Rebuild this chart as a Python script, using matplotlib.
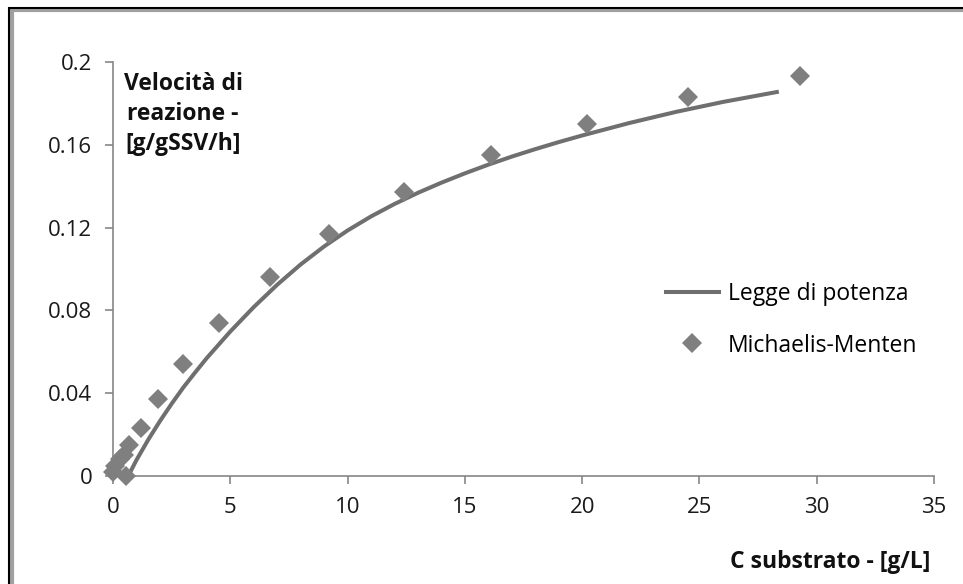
import matplotlib
matplotlib.use("Agg")
import matplotlib.pyplot as plt
from matplotlib.patches import Rectangle

plt.rcParams['font.family'] = ['Open Sans', 'DejaVu Sans']

# Michaelis-Menten points
x_mm = [0.02, 0.1, 0.3, 0.45, 0.55, 0.7, 1.2, 1.9, 3.0, 4.5, 6.7, 9.2, 12.4, 16.1, 20.2, 24.5, 29.3]
y_mm = [0.002, 0.005, 0.008, 0.010, 0.000, 0.015, 0.023, 0.037, 0.054, 0.074, 0.096, 0.117, 0.137, 0.155, 0.170, 0.183, 0.193]

# power-law curve
x_pw = [0.65, 1, 1.5, 2, 2.5, 3, 3.5, 4, 5, 6, 7, 8, 9, 10, 11, 12, 13, 14, 15, 16, 17, 18, 19, 20,
        22, 24, 26, 28.3]
y_pw = [0.0, 0.0077, 0.0175, 0.0265, 0.0349, 0.0428, 0.0500, 0.0570, 0.0698, 0.0816, 0.0924, 0.1022,
        0.1109, 0.1186, 0.1254, 0.1314, 0.1368, 0.1417, 0.1462, 0.1504, 0.1543, 0.1579, 0.1613, 0.1645,
        0.1705, 0.1759, 0.1807, 0.1855]

xticks = [0, 5, 10, 15, 20, 25, 30, 35]
yticks = [0, 0.04, 0.08, 0.12, 0.16, 0.2]
ytick_labels = ['0', '0.04', '0.08', '0.12', '0.16', '0.2']

fig = plt.figure(figsize=(9.63, 5.84), dpi=100)

# outer frame with a grey shadow line
fig.patches.append(Rectangle((12/963, -0.1), 1.2, (584 - 10)/584 + 0.1, transform=fig.transFigure,
                             fill=False, edgecolor='#a0a0a0', linewidth=3, zorder=0))
fig.patches.append(Rectangle((9/963, -0.1), 1.2, (584 - 8)/584 + 0.1, transform=fig.transFigure,
                             fill=False, edgecolor='black', linewidth=1.5, zorder=1))

ax = fig.add_axes([113/963, (584 - 476)/584, 821/963, 414/584])

ax.plot(x_pw, y_pw, color='#6f6f6f', linewidth=2.9, label='Legge di potenza', zorder=3)
ax.plot(x_mm, y_mm, linestyle='none', marker='D', markersize=10, color='#7f7f7f',
        markeredgewidth=0, label='Michaelis-Menten', clip_on=False, zorder=4)

ax.set_xlim(0, 35)
ax.set_ylim(0, 0.2)
ax.set_xticks(xticks)
ax.set_yticks(yticks)
ax.set_yticklabels(ytick_labels)

for s in ['top', 'right']:
    ax.spines[s].set_visible(False)
for s in ['left', 'bottom']:
    ax.spines[s].set_color('#868686')
    ax.spines[s].set_linewidth(1.2)
ax.tick_params(direction='out', length=6, width=1.2, color='#868686', labelsize=16, labelcolor='#1a1a1a')
ax.tick_params(axis='x', pad=9)
ax.tick_params(axis='y', pad=9)

fig.text(183/963, 1 - 114/584, 'Velocità di\nreazione -\n[g/gSSV/h]',
         ha='center', va='center', fontsize=16.5, fontweight='bold', linespacing=1.35, color='#111111')
fig.text(830/963, 1 - 562/584, 'C substrato - [g/L]',
         ha='center', va='center', fontsize=16.5, fontweight='bold', color='#111111')

ax.legend(loc='upper left', bbox_to_anchor=(666/963, 1 - 282/584), bbox_transform=fig.transFigure,
          frameon=False, fontsize=16.5, handlelength=2.3, handletextpad=0.4, labelspacing=1.2,
          borderaxespad=0, borderpad=0)

fig.savefig('out.png', dpi=100)
